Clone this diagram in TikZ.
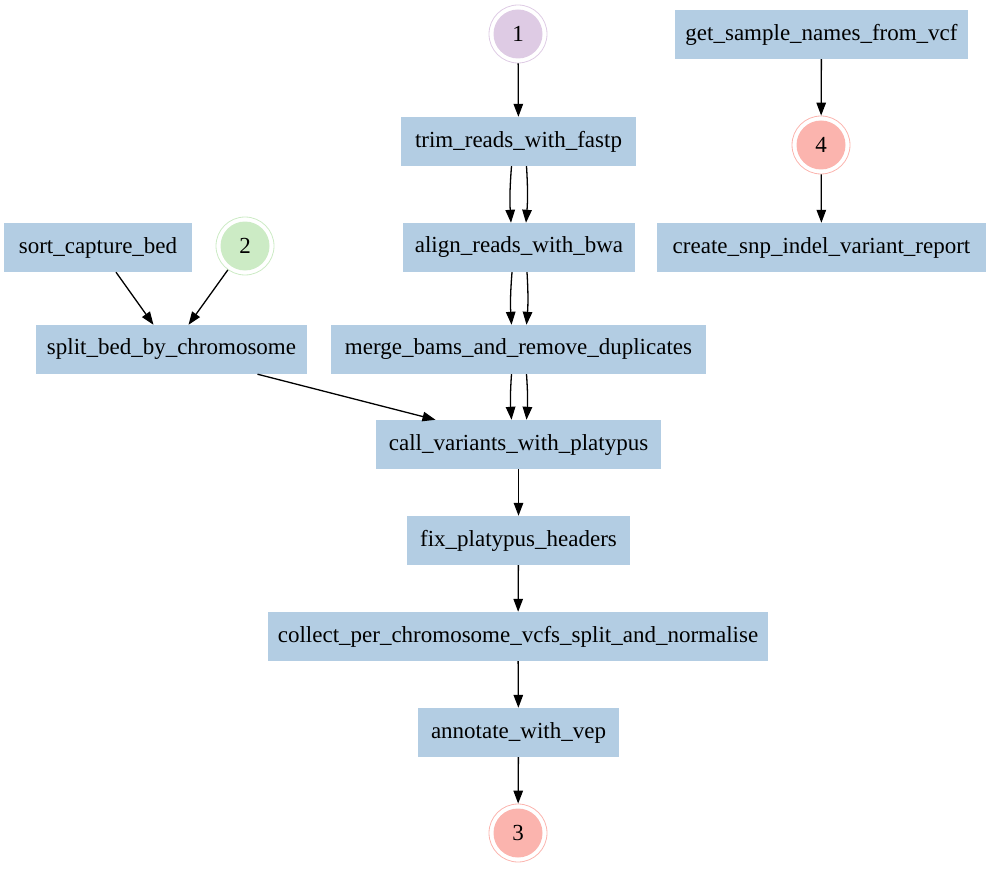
\documentclass[tikz,border=0pt]{standalone}
\usepackage{fontspec}
\setmainfont{Liberation Serif}
\usetikzlibrary{arrows.meta}
\definecolor{taskblue}{HTML}{B3CDE3}
\definecolor{ringpurple}{HTML}{DECBE4}
\definecolor{ringgreen}{HTML}{CCEBC5}
\definecolor{ringred}{HTML}{FBB4AE}
\begin{document}
\begin{tikzpicture}[x=1pt,y=-1pt,
  task/.style={fill=taskblue, draw=none, minimum height=49pt, inner sep=0pt,
    font=\fontsize{23}{26}\selectfont},
  ring/.style={circle, draw=#1, line width=0.8pt, minimum size=58pt, inner sep=0pt,
    font=\fontsize{23}{26}\selectfont,
    path picture={\fill[#1] (path picture bounding box.center) circle (24.5pt);}},
  flow/.style={line width=1.3pt, -{Triangle[length=13pt,width=9.5pt]}}
]
\useasboundingbox (0,0) rectangle (990,869);

% main pipeline
\node[ring=ringpurple] (c1) at (518,34) {1};
\node[task, minimum width=235pt] (trim) at (518.5,141.5) {trim\_reads\_with\_fastp};
\node[task, minimum width=232pt] (align) at (519,247.5) {align\_reads\_with\_bwa};
\node[task, minimum width=375pt] (merge) at (518.5,349.5) {merge\_bams\_and\_remove\_duplicates};
\node[task, minimum width=285pt] (call) at (518.5,444.5) {call\_variants\_with\_platypus};
\node[task, minimum width=223pt] (fix) at (518.5,540.5) {fix\_platypus\_headers};
\node[task, minimum width=500pt] (collect) at (518,636.5) {collect\_per\_chromosome\_vcfs\_split\_and\_normalise};
\node[task, minimum width=201pt] (vep) at (518.5,732.5) {annotate\_with\_vep};
\node[ring=ringred] (c3) at (518,833) {3};

% capture bed branch
\node[task, minimum width=188pt] (sortbed) at (98,247.5) {sort\_capture\_bed};
\node[ring=ringgreen] (c2) at (245,246) {2};
\node[task, minimum width=271pt] (splitbed) at (171.5,349.5) {split\_bed\_by\_chromosome};

% report branch
\node[task, minimum width=293pt] (getnames) at (821.5,34.5) {get\_sample\_names\_from\_vcf};
\node[ring=ringred] (c4) at (821,145) {4};
\node[task, minimum width=329pt] (report) at (821.5,247.5) {create\_snp\_indel\_variant\_report};

% connectors
\draw[flow] (c1) -- (trim);
\draw[flow] ([xshift=-7pt]trim.south) to[bend right=4] ([xshift=-8pt]align.north);
\draw[flow] ([xshift=8pt]trim.south) to[bend left=4] ([xshift=7pt]align.north);
\draw[flow] ([xshift=-7pt]align.south) to[bend right=4] ([xshift=-7pt]merge.north);
\draw[flow] ([xshift=8pt]align.south) to[bend left=4] ([xshift=8pt]merge.north);
\draw[flow] ([xshift=-7pt]merge.south) to[bend right=4] ([xshift=-7pt]call.north);
\draw[flow] ([xshift=8pt]merge.south) to[bend left=4] ([xshift=8pt]call.north);
\draw[flow] ([xshift=86pt]splitbed.south) -- ([xshift=-83pt]call.north);
\draw[flow] (call) -- (fix);
\draw[flow] (fix) -- (collect);
\draw[flow] (collect) -- (vep);
\draw[flow] (vep) -- (c3);
\draw[flow] ([xshift=18pt]sortbed.south) -- ([xshift=-18pt]splitbed.north);
\draw[flow] (c2) -- ([xshift=17pt]splitbed.north);
\draw[flow] (getnames) -- (c4);
\draw[flow] (c4) -- (report);
\end{tikzpicture}
\end{document}
